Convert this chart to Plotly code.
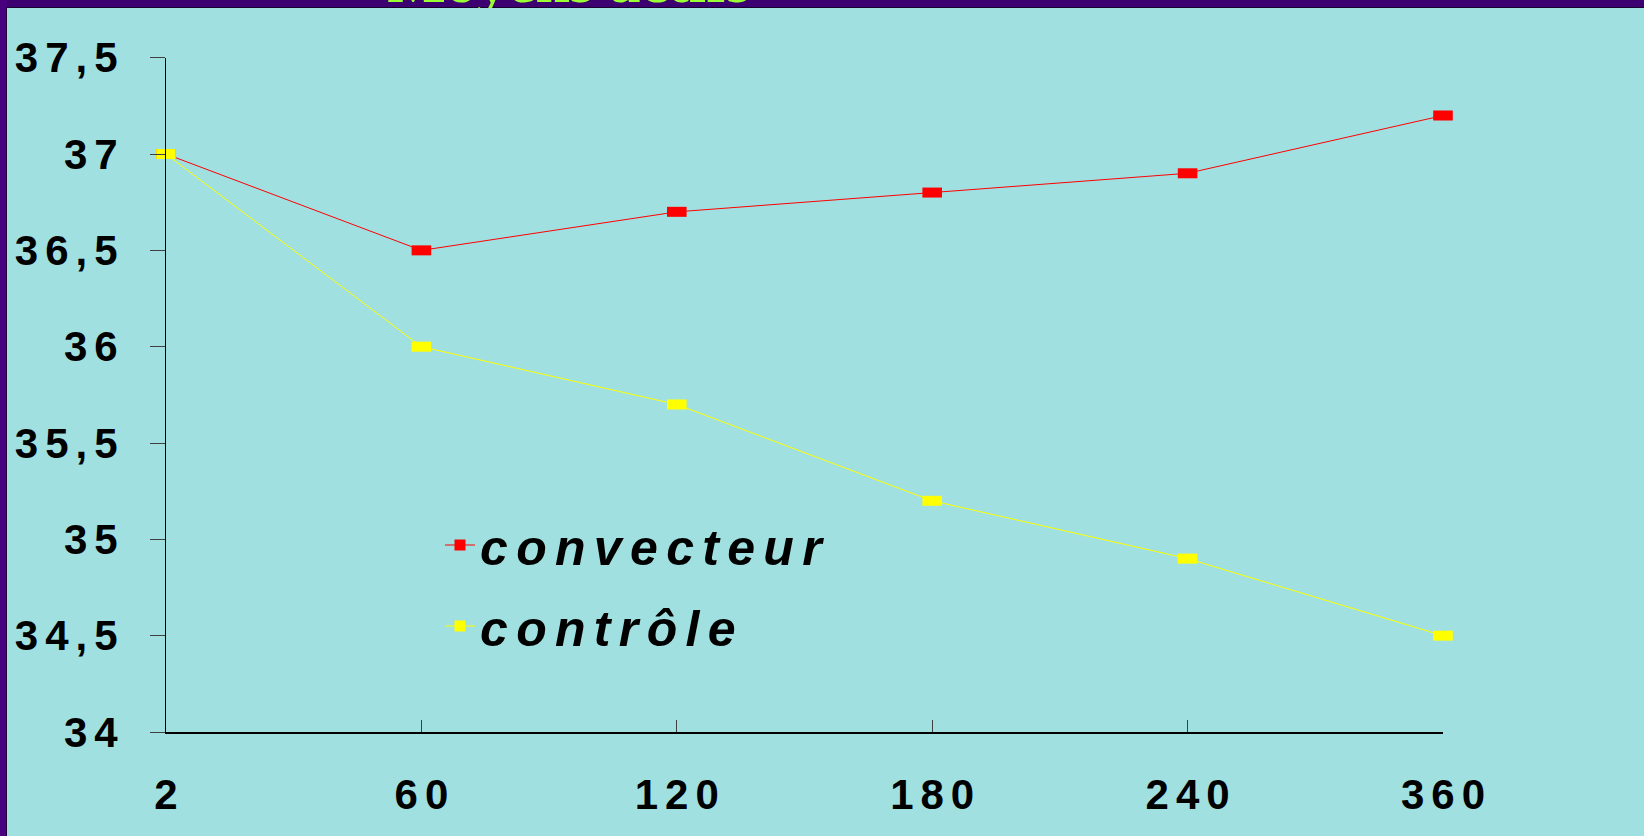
import plotly.graph_objects as go

# ---------------- data ----------------
categories = ["2", "60", "120", "180", "240", "360"]
convecteur = [37.0, 36.5, 36.7, 36.8, 36.9, 37.2]
controle = [37.0, 36.0, 35.7, 35.2, 34.9, 34.5]
series_names = ["convecteur", "contrôle"]
y_tickvals = [34, 34.5, 35, 35.5, 36, 36.5, 37, 37.5]
y_ticklabels = ["34", "34,5", "35", "35,5", "36", "36,5", "37", "37,5"]
title_text = "Moyens actifs"

# ---------------- style ----------------
W, H = 1644, 836
CYAN = "#A0E0E0"
PURPLE_TOP = "#3D0070"
PURPLE_LEFT = "#48007E"
RED = "#FF0000"
YELLOW = "#FFFF00"
SP = "\u2006"  # six-per-em space, emulates the letter spacing


def spaced(s):
    return SP.join(s)


# plot area in pixels
PL, PR, PT, PB = 166, 1443, 57.7, 732

fig = go.Figure()

for vals, color in [(convecteur, RED), (controle, YELLOW)]:
    fig.add_trace(go.Scatter(
        x=categories, y=vals, mode="lines+markers",
        line=dict(color=color, width=1),
        marker=dict(symbol="line-ew", size=14, color=color,
                    line=dict(width=10, color=color)),
        cliponaxis=False, showlegend=False, hoverinfo="skip",
    ))

for i, (name, color) in enumerate(zip(series_names, [RED, YELLOW])):
    fig.add_trace(go.Scatter(
        x=[None], y=[None], mode="lines+markers", name=spaced(name),
        line=dict(color=color, width=1),
        marker=dict(symbol="square", size=11, color=color, line=dict(width=0)),
        legendgroup="g%d" % i,
    ))

# title, clipped by the top strip
fig.add_trace(go.Scatter(
    x=[569], y=[-14], xaxis="x2", yaxis="y2", mode="text",
    text=[title_text], textposition="middle center",
    textfont=dict(family="Liberation Serif", size=62, color="#99FF33", weight="bold"),
    cliponaxis=True, showlegend=False, hoverinfo="skip",
))

tickfont = dict(family="Liberation Sans", size=42, color="black", weight="bold")

fig.update_layout(
    width=W, height=H,
    margin=dict(l=0, r=0, t=0, b=0, pad=0, autoexpand=False),
    paper_bgcolor=CYAN,
    plot_bgcolor="rgba(0,0,0,0)",
    showlegend=True,
    legend=dict(
        x=440 / W, y=1 - 506 / H, xanchor="left", yanchor="top",
        bgcolor="rgba(0,0,0,0)", borderwidth=0,
        traceorder="grouped", tracegroupgap=13,
        font=dict(family="Liberation Sans", size=50, color="black",
                  weight="bold", style="italic"),
    ),
    xaxis=dict(
        domain=[PL / W, PR / W], type="category", range=[0, 5],
        tickvals=categories, ticktext=[spaced(c) for c in categories],
        showline=True, linecolor="black", linewidth=1.5,
        ticks="inside", ticklen=12, tickcolor="#404040", tickwidth=1,
        showgrid=False, zeroline=False, tickfont=tickfont,
        ticklabelstandoff=25, automargin=False,
    ),
    yaxis=dict(
        domain=[1 - PB / H, 1 - PT / H], range=[34, 37.5],
        tickvals=y_tickvals, ticktext=[spaced(t) for t in y_ticklabels],
        showline=True, linecolor="black", linewidth=1,
        ticks="outside", ticklen=15, tickcolor="#404040", tickwidth=1,
        showgrid=False, zeroline=False, tickfont=tickfont,
        ticklabelstandoff=24, automargin=False,
    ),
    xaxis2=dict(domain=[0, 1], range=[0, W], visible=False, fixedrange=True),
    yaxis2=dict(domain=[1 - 8 / H, 1], range=[8, 0], visible=False, fixedrange=True),
    shapes=[
        dict(type="rect", xref="paper", yref="paper", x0=0, x1=1, y0=1 - 8 / H, y1=1,
             fillcolor=PURPLE_TOP, line=dict(width=0), layer="below"),
        dict(type="rect", xref="paper", yref="paper", x0=0, x1=7 / W, y0=0, y1=1,
             fillcolor=PURPLE_LEFT, line=dict(width=0), layer="below"),
        dict(type="line", xref="paper", yref="paper", x0=7 / W, x1=1, y0=1 - 7.5 / H, y1=1 - 7.5 / H,
             line=dict(color="#1A0030", width=1), layer="below"),
        dict(type="line", xref="paper", yref="paper", x0=6.5 / W, x1=6.5 / W, y0=0, y1=1 - 7.5 / H,
             line=dict(color="#1A0030", width=1), layer="below"),
    ],
)

fig.write_html(
    "out.html",
    config={"displayModeBar": False},
    post_script="document.body.style.margin='0px';document.body.style.overflow='hidden';",
)
